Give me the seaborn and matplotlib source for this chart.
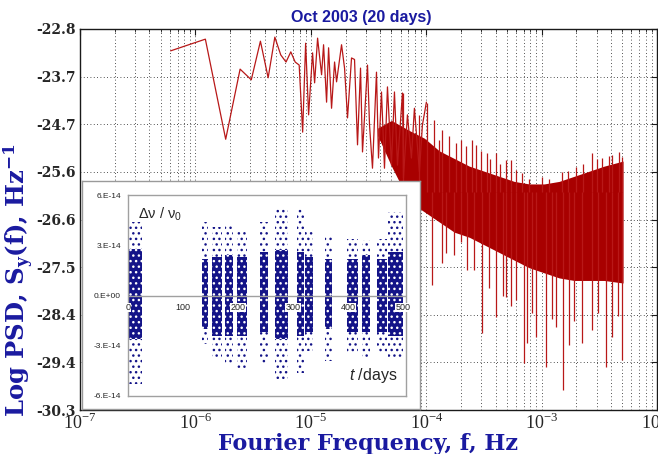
import numpy as np
import matplotlib
matplotlib.use("Agg")
import matplotlib.pyplot as plt
import seaborn as sns
from matplotlib.patches import Rectangle
from matplotlib.ticker import LogLocator, NullFormatter

# ---------------- main spectrum data ----------------
# individually resolved spectral points (Fourier frequency in Hz, log10 PSD)
line_freq = [6.10e-7, 1.22e-6, 1.83e-6, 2.44e-6, 3.05e-6, 3.66e-6, 4.27e-6,
             4.88e-6, 5.49e-6, 6.10e-6, 6.71e-6, 7.32e-6, 7.93e-6,
             8.50e-6, 9.02e-6, 9.57e-6, 1.036e-5, 1.079e-5, 1.145e-5,
             1.240e-5, 1.290e-5, 1.370e-5, 1.426e-5, 1.513e-5, 1.607e-5,
             1.672e-5, 1.847e-5, 1.961e-5, 2.081e-5, 2.254e-5, 2.393e-5,
             2.540e-5, 2.697e-5, 2.806e-5, 3.100e-5, 3.227e-5, 3.424e-5,
             3.709e-5, 3.859e-5, 4.098e-5, 4.350e-5, 4.617e-5, 5.000e-5,
             5.308e-5, 5.636e-5, 6.227e-5, 6.352e-5, 6.877e-5, 7.447e-5,
             7.905e-5, 8.735e-5, 9.272e-5, 1.004e-4]
line_logpsd = [-23.23, -23.00, -24.97, -23.59, -23.80, -23.04, -23.76,
               -22.96, -23.31, -23.45, -23.25, -23.45, -23.51,
               -24.83, -23.08, -24.49, -23.27, -23.86, -22.98,
               -23.70, -23.11, -24.24, -23.17, -24.36, -23.45,
               -23.84, -23.11, -23.57, -24.55, -23.37, -23.40,
               -25.08, -23.57, -25.22, -23.51, -24.69, -25.54,
               -23.65, -25.34, -24.04, -25.54, -23.94, -25.48,
               -24.04, -25.48, -24.06, -25.73, -24.49, -25.34,
               -24.36, -25.61, -24.69, -24.24]

# dense part of the spectrum: core envelope
band_freq = [3.8e-5, 5.0e-5, 7.16e-5, 9.65e-5, 1.301e-4, 1.754e-4, 2.364e-4,
             3.188e-4, 4.297e-4, 5.79e-4, 7.81e-4, 1.053e-3, 1.420e-3,
             1.914e-3, 2.581e-3, 3.479e-3, 5.08e-3]
band_upper = [-24.75, -24.6, -24.8, -24.95, -25.2, -25.35, -25.5, -25.6,
              -25.7, -25.8, -25.85, -25.85, -25.8, -25.7, -25.6, -25.5, -25.4]
band_lower = [-24.9, -25.5, -26.2, -26.4, -26.6, -26.8, -26.9, -27.05,
              -27.2, -27.35, -27.5, -27.6, -27.7, -27.75, -27.75, -27.75, -27.8]

# spikes above the band
peak_freq = [6.35e-5, 8.73e-5, 1.024e-4, 1.18e-4, 1.301e-4, 1.381e-4,
             1.59e-4, 1.825e-4, 2.016e-4, 2.2e-4, 2.510e-4, 2.719e-4,
             2.96e-4, 3.384e-4, 3.6e-4, 4.049e-4, 4.4e-4, 4.941e-4,
             5.458e-4, 6.03e-4, 6.80e-4, 7.8e-4, 1.012e-3, 1.15e-3,
             1.508e-3, 1.7e-3, 1.992e-3, 2.3e-3, 2.74e-3, 3.0e-3, 3.344e-3,
             3.8e-3, 4.08e-3, 4.69e-3, 4.98e-3]
peak_val = [-24.06, -24.50, -24.26, -24.60, -24.99, -24.79, -24.90, -25.04,
            -24.99, -25.10, -24.99, -25.08, -25.20, -25.24, -25.35, -25.24,
            -25.45, -25.38, -25.38, -25.58, -25.63, -25.75, -25.71, -25.75,
            -25.61, -25.60, -25.52, -25.45, -25.24, -25.35, -25.34, -25.30,
            -25.28, -25.22, -25.32]

# spikes below the band
dip_freq = [7.16e-5, 8.73e-5, 1.131e-4, 1.381e-4, 1.495e-4, 1.754e-4,
            2.016e-4, 2.272e-4, 2.6e-4, 3.064e-4, 3.522e-4, 4.049e-4,
            4.65e-4, 4.941e-4, 5.458e-4, 6.03e-4, 7.07e-4, 7.51e-4,
            8.2e-4, 8.98e-4, 1.096e-3, 1.24e-3, 1.338e-3, 1.538e-3,
            1.733e-3, 1.92e-3, 2.245e-3, 2.74e-3, 3.10e-3, 3.622e-3,
            4.08e-3, 4.60e-3, 4.98e-3]
dip_val = [-27.54, -27.74, -27.84, -27.41, -27.21, -27.25, -26.99, -27.54,
           -27.55, -28.78, -27.90, -28.47, -28.05, -28.08, -28.25, -28.13,
           -29.37, -28.98, -28.40, -28.86, -29.45, -28.50, -28.67, -29.91,
           -29.02, -28.55, -28.98, -28.73, -28.40, -29.45, -28.86, -28.45,
           -29.32]

ytick_pos = [-30.3, -29.3625, -28.425, -27.4875, -26.55, -25.6125,
             -24.675, -23.7375, -22.8]
ytick_lab = ["-30.3", "-29.4", "-28.4", "-27.5", "-26.6", "-25.6",
             "-24.7", "-23.7", "-22.8"]
xtick_pos = [1e-7, 1e-6, 1e-5, 1e-4, 1e-3, 1e-2]
xtick_lab = [r"$10^{-7}$", r"$10^{-6}$", r"$10^{-5}$", r"$10^{-4}$",
             r"$10^{-3}$", r"$10^{-2}$"]

# ---------------- inset data (days, fractional frequency / 1e-14) ----------------
cl_start = [0, 134, 152, 176, 198, 240, 267, 307, 322, 358, 398, 425, 452, 473]
cl_end = [26, 146, 171, 191, 216, 255, 291, 320, 336, 371, 418, 440, 471, 500]
cl_core_lo = [-2.6, -2.0, -2.4, -2.4, -2.4, -2.2, -2.6, -2.4, -2.2, -2.0, -2.2, -2.2, -2.2, -2.4]
cl_core_hi = [2.8, 2.2, 2.3, 2.4, 2.3, 2.6, 2.7, 2.6, 2.3, 2.2, 2.2, 2.4, 2.2, 2.6]
cl_ext_lo = [-5.3, -2.9, -3.7, -4.0, -4.3, -4.1, -5.0, -4.6, -3.3, -3.9, -3.5, -3.8, -3.5, -3.8]
cl_ext_hi = [4.4, 4.4, 4.1, 4.2, 3.8, 4.4, 5.3, 5.3, 3.8, 3.5, 3.4, 3.3, 3.4, 5.0]
in_xticks = [0, 100, 200, 300, 400, 500]
in_yticks = [-6e-14, -3e-14, 0.0, 3e-14, 6e-14]
in_ylab = ["-6.E-14", "-3.E-14", "0.E+00", "3.E-14", "6.E-14"]

RED = "#a80000"
SPIKE = "#b81818"
BLUE = "#1a1aa0"
NAVY = "#141488"
GREY = "#a0a0a0"

sns.set_theme(style="white")
plt.rcParams.update({
    "font.family": ["DejaVu Serif"],
    "mathtext.fontset": "custom",
    "mathtext.rm": "Liberation Serif",
    "mathtext.it": "Liberation Sans:italic",
    "mathtext.bf": "Liberation Serif:bold",
    "axes.unicode_minus": False,
})

fig = plt.figure(figsize=(6.58, 4.54), dpi=100)
ax = fig.add_axes([80 / 658, 44 / 454, 577 / 658, 381 / 454])

sns.lineplot(x=line_freq, y=line_logpsd, sort=False, estimator=None,
             color=SPIKE, lw=0.9, ax=ax, zorder=3)
ax.fill_between(band_freq, band_lower, band_upper, color=RED, lw=0, zorder=2)
ax.vlines(peak_freq, peak_val, -26.0, color=SPIKE, lw=0.9, zorder=2)
ax.vlines(dip_freq, -26.0, dip_val, color=SPIKE, lw=0.9, zorder=2)

ax.set_xscale("log")
ax.set_xlim(1e-7, 1e-2)
ax.set_ylim(-30.3, -22.8)
ax.set_xticks(xtick_pos, xtick_lab)
ax.xaxis.set_minor_locator(LogLocator(base=10, subs=np.arange(2, 10)))
ax.xaxis.set_minor_formatter(NullFormatter())
ax.set_yticks(ytick_pos, ytick_lab)

ax.tick_params(axis="both", which="both", direction="in", top=True, right=True,
               color="k")
ax.tick_params(axis="both", which="major", length=4, width=0.8)
ax.tick_params(axis="x", which="minor", length=2, width=0.6)
ax.tick_params(axis="x", which="major", labelsize=13, pad=2)
ax.tick_params(axis="y", which="major", pad=3)
for lab in ax.get_yticklabels():
    lab.set_fontweight("bold")
    lab.set_fontsize(10)
    lab.set_family(["DejaVu Serif"])

ax.grid(True, which="major", axis="both", color="k", ls=(0, (1, 3)), lw=0.6)
ax.grid(True, which="minor", axis="x", color="k", ls=(0, (1, 3)), lw=0.6)
for sp in ax.spines.values():
    sp.set_color("k")
    sp.set_linewidth(1.0)

ax.set_title("Oct 2003 (20 days)", color=BLUE, fontweight="bold",
             family=["Liberation Sans", "DejaVu Sans"], fontsize=11.5, pad=5,
             x=0.487)
ax.set_xlabel("Fourier Frequency, f, Hz", color=BLUE, fontweight="bold",
              fontsize=16, labelpad=0, family=["DejaVu Serif"])
ax.set_ylabel(r"Log PSD, S$_\mathregular{y}$(f), Hz$^\mathregular{-1}$",
              color=BLUE, fontweight="bold", fontsize=17.5, family=["DejaVu Serif"])
ax.yaxis.set_label_coords(-0.077, 0.34)

# ---------------- inset ----------------
box = fig.add_axes([82 / 658, 45 / 454, 338 / 658, 228 / 454])
box.set_xticks([])
box.set_yticks([])
box.set_facecolor("white")
for sp in box.spines.values():
    sp.set_color("#9a9a9a")
    sp.set_linewidth(1.0)

ins = fig.add_axes([128 / 658, 58 / 454, 278 / 658, 201 / 454])
ins.set_facecolor("white")
for t0, t1, elo, ehi in zip(cl_start, cl_end, cl_ext_lo, cl_ext_hi):
    ins.add_patch(Rectangle((t0, elo * 1e-14), t1 - t0, (ehi - elo) * 1e-14,
                            facecolor="none", edgecolor=NAVY, lw=0,
                            hatch="...", zorder=1))
for t0, t1, clo, chi in zip(cl_start, cl_end, cl_core_lo, cl_core_hi):
    ins.add_patch(Rectangle((t0, clo * 1e-14), t1 - t0, (chi - clo) * 1e-14,
                            facecolor=NAVY, edgecolor="white", lw=0,
                            hatch="...", zorder=1.2))
ins.axhline(0, color=GREY, lw=1.0, zorder=1.5)
ins.set_xlim(0, 505)
ins.set_ylim(-6e-14, 6e-14)
ins.set_xticks([])
ins.set_yticks(in_yticks, in_ylab)
ins.tick_params(axis="y", length=0, pad=5, labelsize=6)
for lab in ins.get_yticklabels():
    lab.set_family(["Liberation Sans", "DejaVu Sans"])
for t in in_xticks:
    ins.text(t, -0.45e-14, str(t), ha="center", va="top", fontsize=6.5,
             family=["Liberation Sans", "DejaVu Sans"], zorder=3,
             bbox=dict(facecolor="white", edgecolor="none", pad=0.3))
for sp in ins.spines.values():
    sp.set_color(GREY)
    sp.set_linewidth(1.0)
ins.text(0.035, 0.905, r"$\mathregular{\Delta\nu\ /\ \nu_0}$", transform=ins.transAxes,
         ha="left", va="center", fontsize=10.5,
         family=["Liberation Sans", "DejaVu Sans"])
ins.text(0.97, 0.10, r"$\mathit{t}$ /days", transform=ins.transAxes,
         ha="right", va="center", fontsize=11.5,
         family=["Liberation Sans", "DejaVu Sans"])

fig.savefig("out.png", dpi=100)
